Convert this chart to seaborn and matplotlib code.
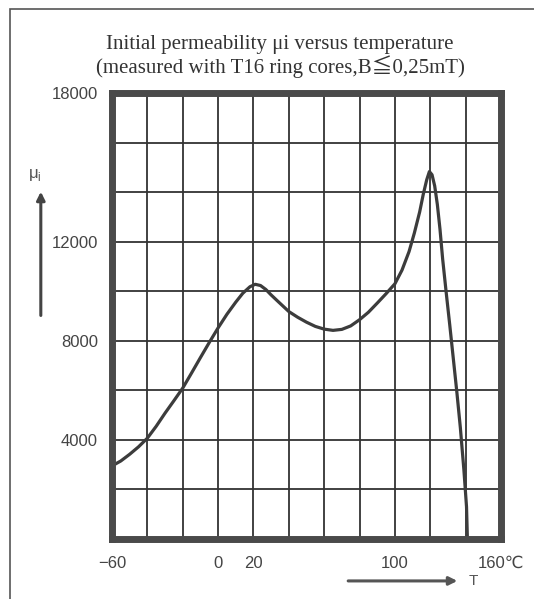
import numpy as np
import pandas as pd

import matplotlib
matplotlib.use("Agg")
import matplotlib.pyplot as plt
import matplotlib.patches as patches
from matplotlib.ticker import MultipleLocator, FixedLocator
import seaborn as sns


# initial permeability vs temperature
temp = [-60, -55, -50, -45, -40, -35, -30, -25, -20, -15, -10, -5, 0, 5, 10,
        14, 18, 21, 24, 27, 30, 34, 40, 45, 50, 55, 60, 65, 70, 75, 80, 85,
        90, 95, 100, 104, 108, 111, 114, 116, 118, 119.5, 121, 122.5, 124,
        125.5, 127, 129, 131, 133, 135, 137, 139, 140.5, 141]
mu_i = [2950, 3150, 3420, 3720, 4070, 4550, 5080, 5580, 6090, 6700, 7320,
        7930, 8520, 9070, 9560, 9920, 10180, 10280, 10230, 10070, 9850, 9580,
        9180, 8950, 8750, 8580, 8470, 8420, 8460, 8600, 8850, 9150, 9520,
        9900, 10300, 10850, 11600, 12350, 13200, 13900, 14500, 14830, 14700,
        14250, 13500, 12500, 11300, 9950, 8650, 7300, 5950, 4500, 2800, 1300, 0]

x_ticks = [-60, 0, 20, 100, 160]
x_labels = ["\u221260", "0", "20", "100", "160\u2103"]
y_ticks = [4000, 8000, 12000, 18000]
y_labels = ["4000", "8000", "12000", "18000"]

df = pd.DataFrame({"T": temp, "mu": mu_i})

sns.set_theme(style="white")
plt.rcParams["font.family"] = ["Liberation Sans", "DejaVu Sans"]

ink = "#3c3c3c"
W, H = 534, 599
fig = plt.figure(figsize=(W / 100, H / 100), dpi=100)
fig.patch.set_facecolor("white")
ax = fig.add_axes([112 / W, 1 - 539 / H, 389 / W, 446 / H])

sns.lineplot(data=df, x="T", y="mu", ax=ax, color=ink, linewidth=2.3,
             sort=False, estimator=None)

ax.set_xlim(-60, 160)
ax.set_ylim(0, 18000)

ax.xaxis.set_major_locator(FixedLocator(x_ticks))
ax.xaxis.set_minor_locator(MultipleLocator(20))
ax.yaxis.set_major_locator(FixedLocator(y_ticks))
ax.yaxis.set_minor_locator(MultipleLocator(2000))
ax.set_xticklabels(x_labels)
ax.set_yticklabels(y_labels)
ax.tick_params(which="both", length=0, labelsize=12, labelcolor="#444444")
ax.tick_params(axis="x", pad=12)
ax.tick_params(axis="y", pad=10)
ax.grid(True, which="both", color="#333333", linewidth=1.3)
ax.set_xlabel("")
ax.set_ylabel("")

for s in ax.spines.values():
    s.set_visible(True)
    s.set_color("#4a4a4a")
    s.set_linewidth(5)

# title in serif, two lines
serif = ["Liberation Serif", "Noto Sans CJK JP", "DejaVu Serif"]
fig.text(280 / W, 1 - 44 / H, "Initial permeability \u03bci versus temperature",
         ha="center", va="center", fontsize=15, family=serif, color="#333333")
fig.text(280 / W, 1 - 67 / H, "(measured with T16 ring cores,B\u22660,25mT)",
         ha="center", va="center", fontsize=15, family=serif, color="#333333")

# axis name arrows
ax.text(-0.198, 0.816, "\u03bc$_\\mathregular{i}$", transform=ax.transAxes,
        ha="center", va="center", fontsize=12, color="#555555")
ax.annotate("", xy=(-0.183, 0.785), xytext=(-0.183, 0.495),
            xycoords="axes fraction", textcoords="axes fraction",
            arrowprops=dict(arrowstyle="-|>", color="#444444", lw=2.2,
                            mutation_scale=12))
ax.annotate("", xy=(0.895, -0.094), xytext=(0.60, -0.094),
            xycoords="axes fraction", textcoords="axes fraction",
            arrowprops=dict(arrowstyle="-|>", color="#555555", lw=2.2,
                            mutation_scale=12))
ax.text(0.93, -0.094, "T", transform=ax.transAxes, ha="center", va="center",
        fontsize=11, color="#555555")

# thin scan frame around the figure
frame = patches.Rectangle((10 / W, -0.05), 1.1, 1.05 - 9 / H,
                          transform=fig.transFigure, fill=False,
                          edgecolor="#555555", linewidth=1.2, clip_on=False)
fig.patches.append(frame)

fig.savefig("out.png", dpi=100)
